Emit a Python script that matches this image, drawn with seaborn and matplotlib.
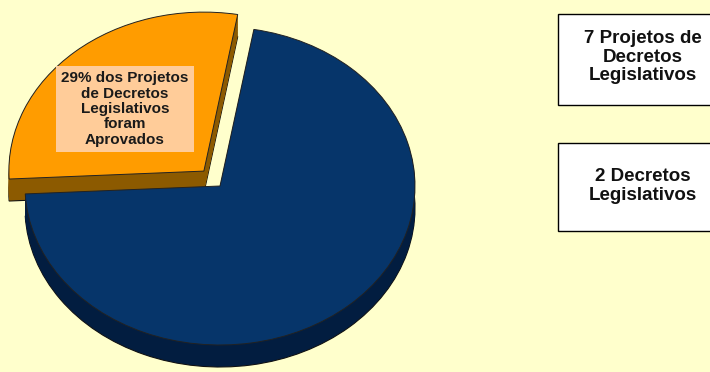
import matplotlib
matplotlib.use('Agg')
import matplotlib.pyplot as plt
import seaborn as sns
from matplotlib.patches import Rectangle

# ---- data ----
categories = ['Decretos Legislativos aprovados', 'Projetos não aprovados']
values = [2, 5]
top_colors = ['#FF9C00', '#06356A']
side_colors = ['#8C5A00', '#021D40']
pie_label = '29% dos Projetos\nde Decretos\nLegislativos\nforam\nAprovados'
box_texts = ['7 Projetos de\nDecretos\nLegislativos', '2 Decretos\nLegislativos']

sns.set_theme(style='white')
plt.rcParams['font.family'] = ['Liberation Sans', 'DejaVu Sans']

W, H = 710, 372
BG = '#FFFFCC'
CX, CY, RX, RY = 220, 186, 195, 159
fig = plt.figure(figsize=(W / 100, H / 100), dpi=100, facecolor=BG)
ax = fig.add_axes([0, 0, 1, 1])
ax.set_facecolor(BG)

explode = [0.125, 0]
start = 80
depth = 22 / RY
n = 30
for k in range(n, 0, -1):
    dy = -depth * k / n
    ax.pie(values, explode=explode, startangle=start, colors=side_colors,
           center=(0, dy),
           wedgeprops=dict(linewidth=0.8 if k == n else 0, edgecolor='#111111'))
ax.pie(values, explode=explode, startangle=start, colors=top_colors,
       center=(0, 0), wedgeprops=dict(linewidth=0.7, edgecolor='#222222'))
ax.set_aspect('auto')
ax.set_xlim(-CX / RX, (W - CX) / RX)
ax.set_ylim((CY - H) / RY, CY / RY)
ax.axis('off')


def fx(px):
    return px / W


def fy(py):
    return 1 - py / H


fig.text(fx(125), fy(109), pie_label, ha='center', va='center',
         fontsize=11, fontweight='bold', color='#1a1a1a', linespacing=1.12,
         bbox=dict(boxstyle='square,pad=0.35', facecolor='#FFCC99',
                   edgecolor='none'))

boxes = [(14, 105, 57), (143, 231, 186)]
for (y0, y1, yc), txt in zip(boxes, box_texts):
    fig.add_artist(Rectangle((fx(558), fy(y1)), fx(200), (y1 - y0) / H,
                             transform=fig.transFigure, facecolor='white',
                             edgecolor='black', linewidth=1))
    fig.text(fx(643), fy(yc), txt, ha='center', va='center', fontsize=13.5,
             fontweight='bold', color='#111111', linespacing=1.1)

fig.savefig('out.png', dpi=100, facecolor=BG)
